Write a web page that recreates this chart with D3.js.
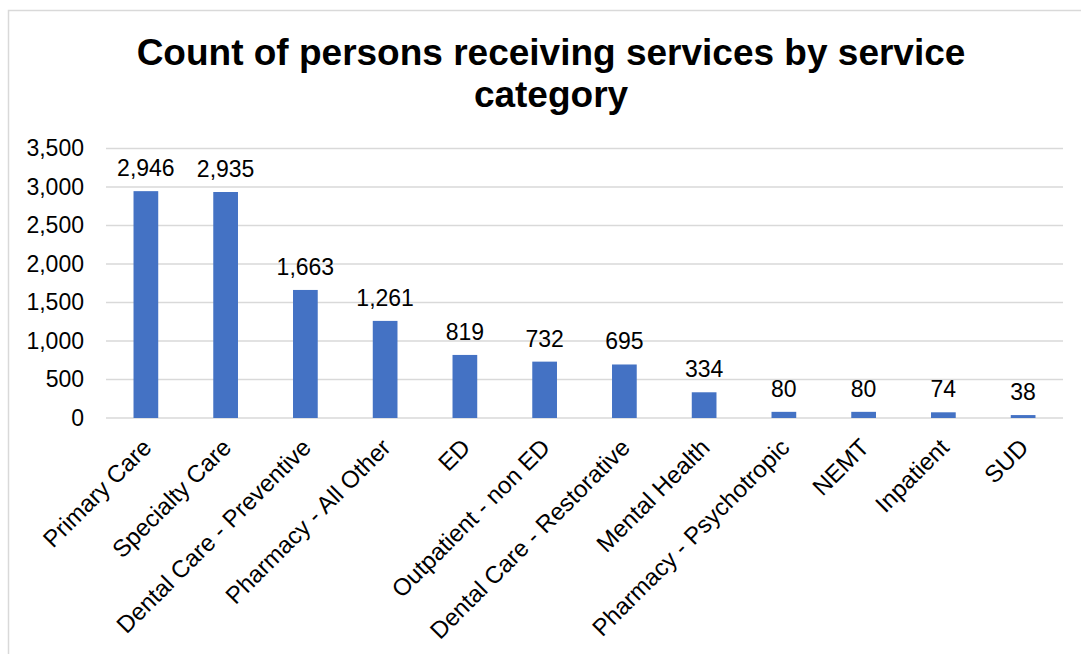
<!DOCTYPE html>
<html>
<head>
<meta charset="utf-8">
<script src="https://cdn.jsdelivr.net/npm/d3@7"></script>
<style>
  body { margin: 0; background: #fff; }
  text { font-family: "Liberation Sans", Arial, sans-serif; fill: #000; }
</style>
</head>
<body>
<div id="viz"></div>
<script>
var categories = ["Primary Care", "Specialty Care", "Dental Care - Preventive", "Pharmacy - All Other",
  "ED", "Outpatient - non ED", "Dental Care - Restorative", "Mental Health",
  "Pharmacy - Psychotropic", "NEMT", "Inpatient", "SUD"];
var counts = [2946, 2935, 1663, 1261, 819, 732, 695, 334, 80, 80, 74, 38];
var yTicks = [0, 500, 1000, 1500, 2000, 2500, 3000, 3500];
var titleLines = ["Count of persons receiving services by service", "category"];

var width = 1081, height = 654;
var plotLeft = 106, plotRight = 1063, plotTop = 148.5, plotBottom = 418;

var svg = d3.select("#viz").append("svg")
  .attr("width", width)
  .attr("height", height);

// chart frame (only top and left visible in the reference)
svg.append("rect")
  .attr("x", 8.5).attr("y", 10.5)
  .attr("width", 1200).attr("height", 800)
  .attr("fill", "none")
  .attr("stroke", "#d9d9d9")
  .attr("stroke-width", 1.5);

var x = d3.scaleBand()
  .domain(categories)
  .range([plotLeft, plotRight])
  .paddingInner(0.69)
  .paddingOuter(0.345);

var y = d3.scaleLinear()
  .domain([0, 3500])
  .range([plotBottom, plotTop]);

// gridlines
svg.append("g").selectAll("line")
  .data(yTicks)
  .join("line")
  .attr("x1", plotLeft).attr("x2", plotRight)
  .attr("y1", d => y(d)).attr("y2", d => y(d))
  .attr("stroke", "#d9d9d9")
  .attr("stroke-width", 1.5);

// y axis labels
var yAxis = d3.axisLeft(y).tickValues(yTicks).tickSize(0).tickPadding(22)
  .tickFormat(d3.format(","));
svg.append("g")
  .attr("transform", "translate(" + plotLeft + ",0)")
  .call(yAxis)
  .call(g => g.select(".domain").remove())
  .selectAll("text")
  .attr("font-size", 23)
  .attr("font-family", "Liberation Sans, Arial, sans-serif")
  .attr("fill", "#000");

// bars
svg.append("g").selectAll("rect")
  .data(counts)
  .join("rect")
  .attr("x", (d, i) => x(categories[i]))
  .attr("width", x.bandwidth())
  .attr("y", d => y(d))
  .attr("height", d => y(0) - y(d))
  .attr("fill", "#4472c4");

// value labels
svg.append("g").selectAll("text")
  .data(counts)
  .join("text")
  .attr("x", (d, i) => x(categories[i]) + x.bandwidth() / 2)
  .attr("y", d => y(d) - 15)
  .attr("text-anchor", "middle")
  .attr("font-size", 23)
  .text(d => d3.format(",")(d));

// x axis labels, rotated
var xAxis = d3.axisBottom(x).tickSize(0).tickPadding(0);
svg.append("g")
  .attr("transform", "translate(0," + plotBottom + ")")
  .call(xAxis)
  .call(g => g.select(".domain").remove())
  .selectAll("text")
  .attr("font-size", 24)
  .attr("font-family", "Liberation Sans, Arial, sans-serif")
  .attr("fill", "#000")
  .attr("text-anchor", "end")
  .attr("dy", 0)
  .attr("transform", "translate(7,31) rotate(-45)");

// title
svg.append("g").selectAll("text")
  .data(titleLines)
  .join("text")
  .attr("x", 551)
  .attr("y", (d, i) => 65 + i * 42)
  .attr("text-anchor", "middle")
  .attr("font-size", 37)
  .attr("font-weight", "bold")
  .text(d => d);
</script>
</body>
</html>
